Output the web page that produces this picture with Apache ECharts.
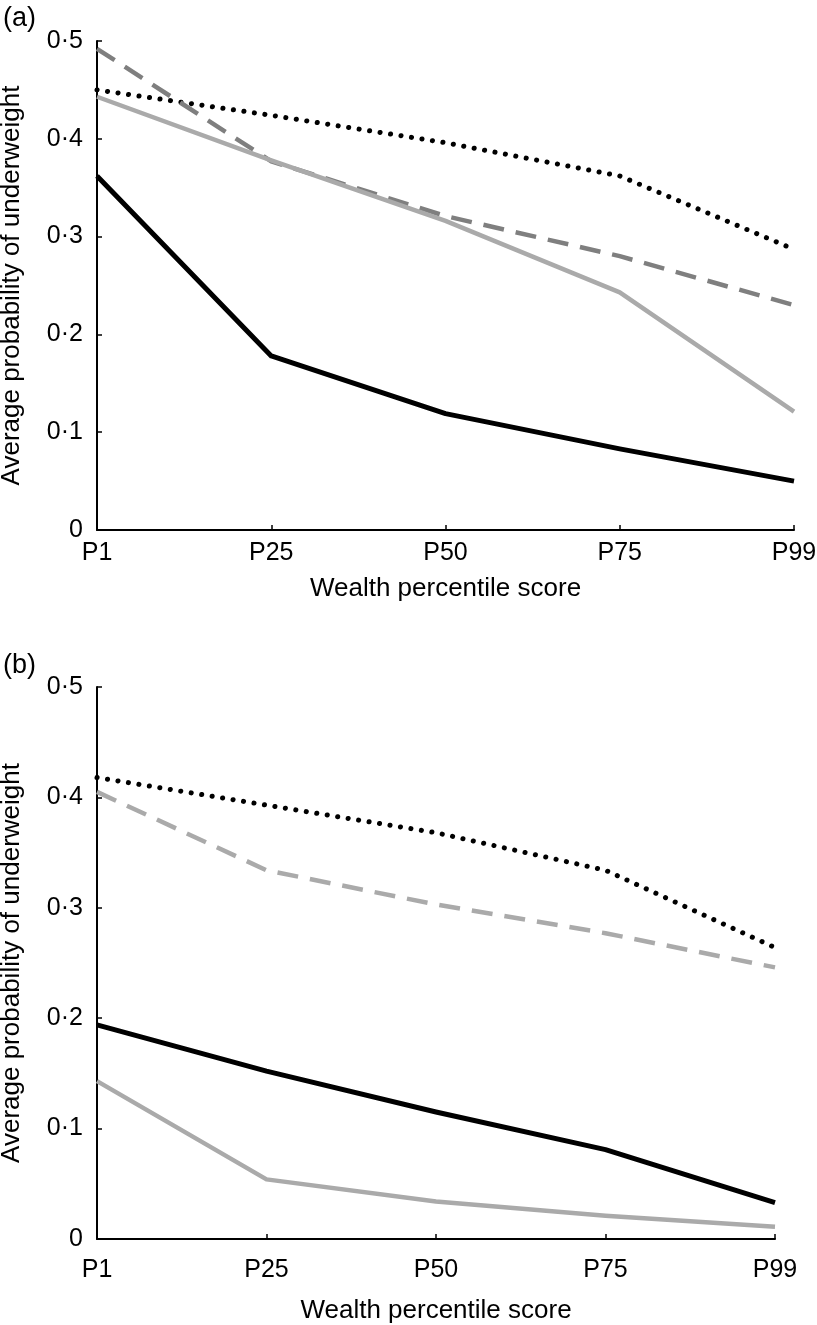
<!DOCTYPE html>
<html><head><meta charset="utf-8">
<script src="https://cdn.jsdelivr.net/npm/echarts@6/dist/echarts.min.js"></script>
<style>html,body{margin:0;padding:0;background:#fff}#c{width:817px;height:1325px}</style>
</head><body><div id="c"></div>
<script>
const categories = ['P1', 'P25', 'P50', 'P75', 'P99'];
const yTicks = [0, 0.1, 0.2, 0.3, 0.4, 0.5];
// Panel (a)
const aDotted = [0.450, 0.424, 0.396, 0.362, 0.287];
const aDashed = [0.492, 0.377, 0.321, 0.280, 0.230];
const aGray   = [0.443, 0.378, 0.316, 0.243, 0.121];
const aBlack  = [0.362, 0.178, 0.119, 0.083, 0.050];
// Panel (b)
const bDotted = [0.418, 0.393, 0.368, 0.334, 0.264];
const bDashed = [0.405, 0.334, 0.303, 0.277, 0.246];
const bBlack  = [0.194, 0.152, 0.115, 0.081, 0.033];
const bGray   = [0.143, 0.054, 0.034, 0.021, 0.011];

const FONT = 'Liberation Sans, Arial, sans-serif';
const fmt = v => v === 0 ? '0' : v.toFixed(1).replace('.', '·');

function xAxis(gi, margin, nameGap) {
  return {
    type: 'category', gridIndex: gi, data: categories, boundaryGap: false,
    axisLine: {lineStyle: {color: '#000', width: 2}},
    axisTick: {inside: true, length: 5, lineStyle: {color: '#000', width: 1.5}},
    axisLabel: {color: '#000', fontSize: 25, fontFamily: FONT, margin: margin},
    name: 'Wealth percentile score', nameLocation: 'middle', nameGap: nameGap,
    nameTextStyle: {color: '#000', fontSize: 26, fontFamily: FONT}
  };
}
function yAxis(gi) {
  return {
    type: 'value', gridIndex: gi, min: 0, max: 0.5, interval: 0.1,
    axisLine: {show: true, lineStyle: {color: '#000', width: 2}},
    axisTick: {show: true, inside: true, length: 5, lineStyle: {color: '#000', width: 1.5}},
    splitLine: {show: false},
    axisLabel: {color: '#000', fontSize: 25, fontFamily: FONT, margin: 14, formatter: fmt},
    name: 'Average probability of underweight', nameLocation: 'middle', nameGap: 72,
    nameTextStyle: {color: '#000', fontSize: 26, fontFamily: FONT}
  };
}
function line(gi, data, color, width, type) {
  return {
    type: 'line', xAxisIndex: gi, yAxisIndex: gi, data: data, symbol: 'none',
    lineStyle: {color: color, width: width, type: type || 'solid', cap: type && typeof type !== 'string' && type[0] < 1 ? 'round' : 'butt', join: 'round'},
    silent: true, animation: false
  };
}
const chart = echarts.init(document.getElementById('c'), null, {renderer: 'canvas'});
chart.setOption({
  animation: false,
  title: [
    {text: '(a)', left: -2, top: 0, textStyle: {fontSize: 27, fontWeight: 'normal', color: '#000', fontFamily: FONT}},
    {text: '(b)', left: -2, top: 647, textStyle: {fontSize: 27, fontWeight: 'normal', color: '#000', fontFamily: FONT}}
  ],
  grid: [
    {left: 97, top: 41, width: 697, height: 489, containLabel: false, outerBoundsMode: 'none'},
    {left: 97, top: 687, width: 678, height: 552, containLabel: false, outerBoundsMode: 'none'}
  ],
  xAxis: [xAxis(0, 11, 46), xAxis(1, 19, 59)],
  yAxis: [yAxis(0), yAxis(1)],
  series: [
    line(0, aDotted, '#000', 5, [0.1, 10.5]),
    line(0, aDashed, '#7f7f7f', 4.5, [21, 12]),
    line(0, aGray, '#aaaaaa', 4.5),
    line(0, aBlack, '#000', 5),
    line(1, bDotted, '#000', 5, [0.1, 10.5]),
    line(1, bDashed, '#aaaaaa', 4.5, [21, 12]),
    line(1, bBlack, '#000', 5),
    line(1, bGray, '#aaaaaa', 4.5)
  ]
});
</script></body></html>
